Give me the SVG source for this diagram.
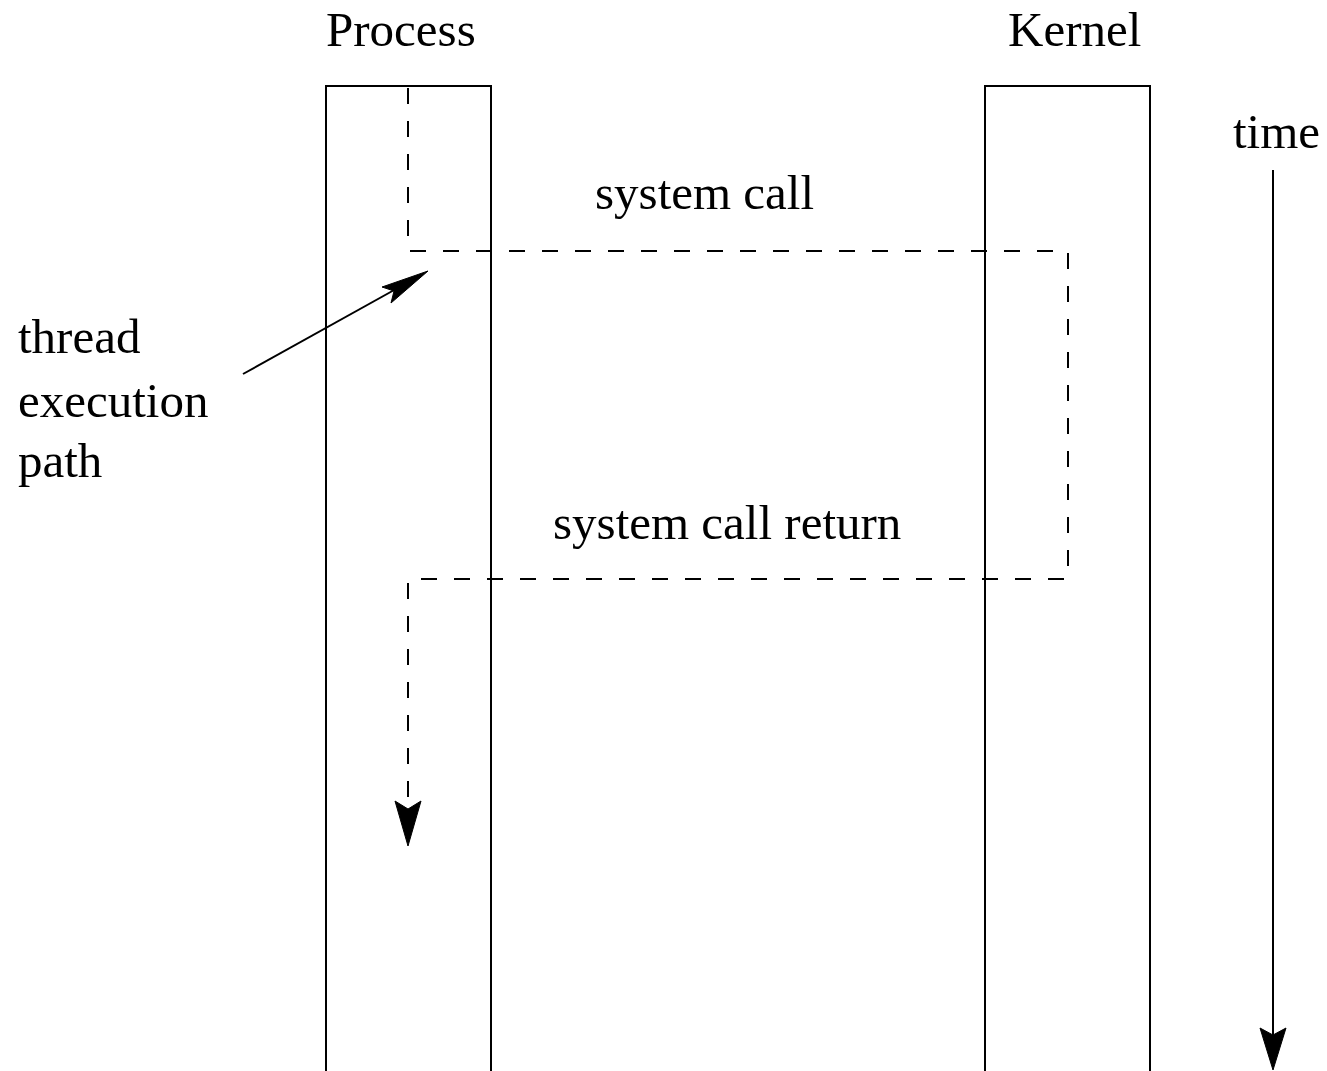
<svg xmlns="http://www.w3.org/2000/svg" width="1327" height="1071" viewBox="0 0 1327 1071">
<style>
text{font-family:"Liberation Serif","Times New Roman",serif;font-size:49px;fill:#000}
.box{fill:none;stroke:#000;stroke-width:2}
.dash{fill:none;stroke:#000;stroke-width:2;stroke-dasharray:16,17}
.solid{fill:none;stroke:#000;stroke-width:2}
.head{fill:#000;stroke:#000;stroke-width:1;stroke-linejoin:miter}
</style>
<rect width="1327" height="1071" fill="#fff"/>
<g id="process">
<path class="box" d="M326,1071 V86 H491 V1071"/>
<text x="326" y="46">Process</text>
</g>
<g id="kernel">
<path class="box" d="M985,1071 V86 H1150 V1071"/>
<text x="1008" y="46">Kernel</text>
</g>
<g id="time">
<text x="1233" y="148">time</text>
</g>
<g id="labels">
<text x="595" y="209">system call</text>
<text x="553" y="539">system call return</text>
<text x="18" y="353">thread</text>
<text x="18" y="417">execution</text>
<text x="18" y="477">path</text>
</g>
<g id="connectors">
<path class="dash" d="M408,88 V251 H1068 V579 H408 V805"/>
<polygon class="head" points="408,846 395,801 408,809 421,801"/>
<path class="solid" d="M1273,170 V1035"/>
<polygon class="head" points="1273,1070 1260,1028 1273,1035 1286,1028"/>
<path class="solid" d="M243,374 L405,284"/>
<polygon class="head" points="428,271 382,287 394,291 391,303"/>
</g>
</svg>
